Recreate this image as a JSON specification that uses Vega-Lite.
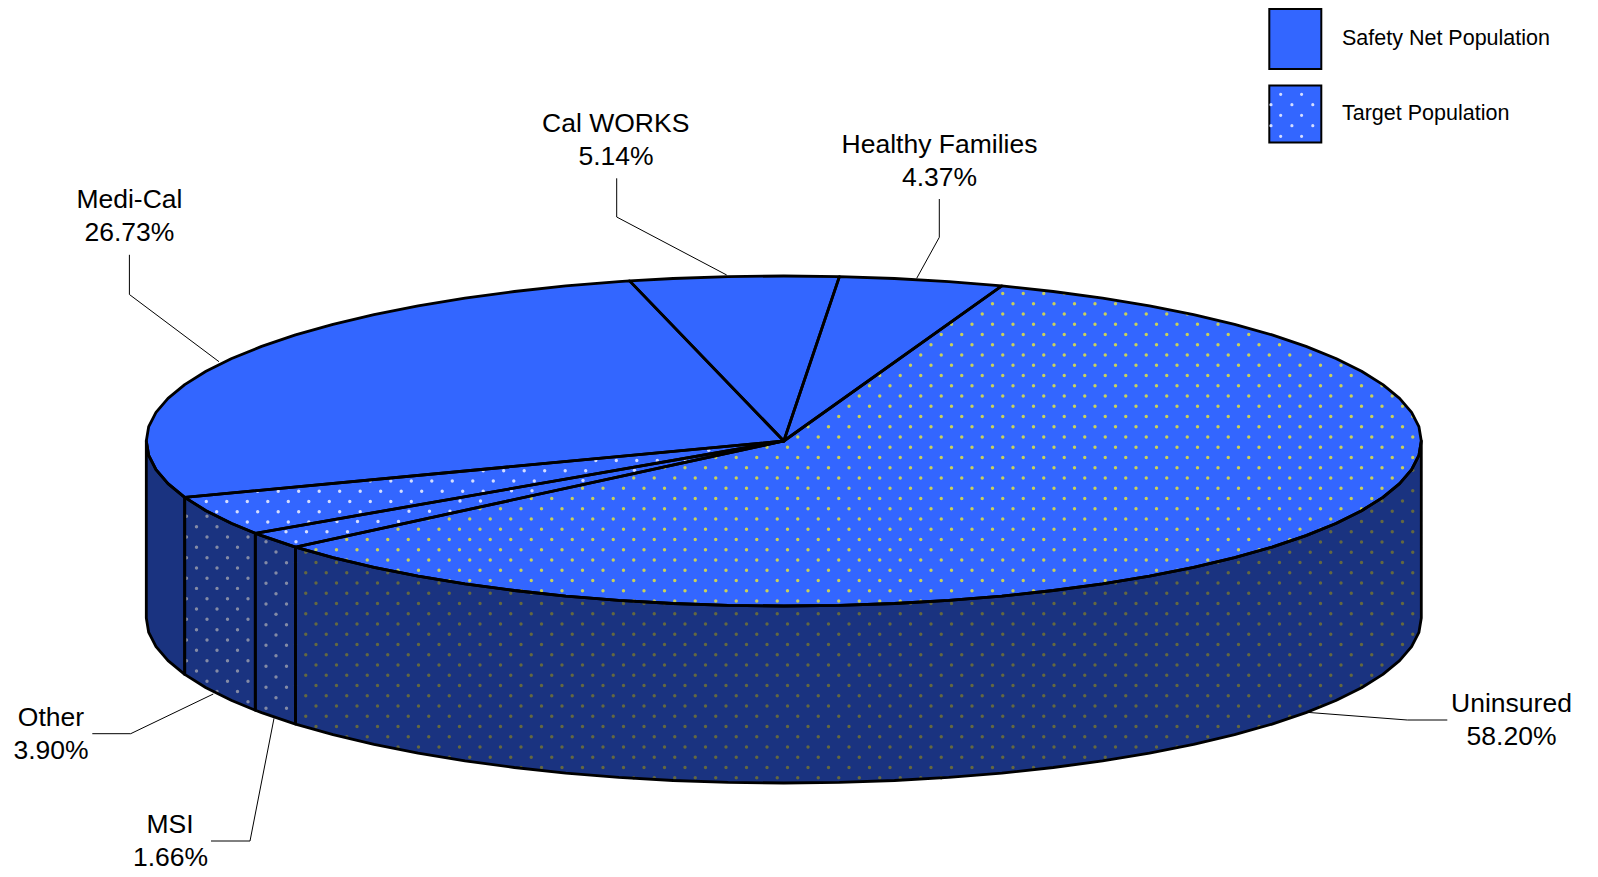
{"$schema":"https://vega.github.io/schema/vega-lite/v6.json","width":1598,"height":877,"padding":0,"autosize":{"type":"none"},"background":"white","config":{"view":{"stroke":null}},
"datasets":{"pie":[
{"s":"SM","f":"side","i":0,"x":146.3,"y":441},{"s":"SM","f":"side","i":1,"x":148.7,"y":455.4},{"s":"SM","f":"side","i":2,"x":156,"y":469.6},{"s":"SM","f":"side","i":3,"x":168,"y":483.7},{"s":"SM","f":"side","i":4,"x":184.7,"y":497.4},{"s":"SM","f":"side","i":5,"x":184.7,"y":674.4},{"s":"SM","f":"side","i":6,"x":168,"y":660.7},{"s":"SM","f":"side","i":7,"x":156,"y":646.6},{"s":"SM","f":"side","i":8,"x":148.7,"y":632.4},{"s":"SM","f":"side","i":9,"x":146.3,"y":618},{"s":"SM","f":"side","i":10,"x":146.3,"y":441},
{"s":"SO","f":"side","i":0,"x":184.7,"y":497.4},{"s":"SO","f":"side","i":1,"x":206,"y":510.7},{"s":"SO","f":"side","i":2,"x":231.7,"y":523.5},{"s":"SO","f":"side","i":3,"x":255.3,"y":533.3},{"s":"SO","f":"side","i":4,"x":255.3,"y":710.3},{"s":"SO","f":"side","i":5,"x":231.7,"y":700.5},{"s":"SO","f":"side","i":6,"x":206,"y":687.7},{"s":"SO","f":"side","i":7,"x":184.7,"y":674.4},{"s":"SO","f":"side","i":8,"x":184.7,"y":497.4},
{"s":"SS","f":"side","i":0,"x":255.3,"y":533.3},{"s":"SS","f":"side","i":1,"x":261.6,"y":535.6},{"s":"SS","f":"side","i":2,"x":295.5,"y":547.1},{"s":"SS","f":"side","i":3,"x":295.5,"y":724.1},{"s":"SS","f":"side","i":4,"x":261.6,"y":712.6},{"s":"SS","f":"side","i":5,"x":255.3,"y":710.3},{"s":"SS","f":"side","i":6,"x":255.3,"y":533.3},
{"s":"SU","f":"side","i":0,"x":295.5,"y":547.1},{"s":"SU","f":"side","i":1,"x":333,"y":557.7},{"s":"SU","f":"side","i":2,"x":374,"y":567.4},{"s":"SU","f":"side","i":3,"x":418.1,"y":576.2},{"s":"SU","f":"side","i":4,"x":465,"y":583.9},{"s":"SU","f":"side","i":5,"x":514.4,"y":590.5},{"s":"SU","f":"side","i":6,"x":565.8,"y":596.1},{"s":"SU","f":"side","i":7,"x":618.8,"y":600.4},{"s":"SU","f":"side","i":8,"x":673.1,"y":603.5},{"s":"SU","f":"side","i":9,"x":728.2,"y":605.4},{"s":"SU","f":"side","i":10,"x":783.8,"y":606},{"s":"SU","f":"side","i":11,"x":839.4,"y":605.4},{"s":"SU","f":"side","i":12,"x":894.5,"y":603.5},{"s":"SU","f":"side","i":13,"x":948.8,"y":600.4},{"s":"SU","f":"side","i":14,"x":1001.8,"y":596.1},{"s":"SU","f":"side","i":15,"x":1053.2,"y":590.5},{"s":"SU","f":"side","i":16,"x":1102.6,"y":583.9},{"s":"SU","f":"side","i":17,"x":1149.5,"y":576.2},{"s":"SU","f":"side","i":18,"x":1193.6,"y":567.4},{"s":"SU","f":"side","i":19,"x":1234.6,"y":557.7},{"s":"SU","f":"side","i":20,"x":1272.1,"y":547.1},{"s":"SU","f":"side","i":21,"x":1306,"y":535.6},{"s":"SU","f":"side","i":22,"x":1335.9,"y":523.5},{"s":"SU","f":"side","i":23,"x":1361.6,"y":510.7},{"s":"SU","f":"side","i":24,"x":1382.9,"y":497.4},{"s":"SU","f":"side","i":25,"x":1399.6,"y":483.7},{"s":"SU","f":"side","i":26,"x":1411.6,"y":469.6},{"s":"SU","f":"side","i":27,"x":1418.9,"y":455.4},{"s":"SU","f":"side","i":28,"x":1421.3,"y":441},{"s":"SU","f":"side","i":29,"x":1421.3,"y":618},{"s":"SU","f":"side","i":30,"x":1418.9,"y":632.4},{"s":"SU","f":"side","i":31,"x":1411.6,"y":646.6},{"s":"SU","f":"side","i":32,"x":1399.6,"y":660.7},{"s":"SU","f":"side","i":33,"x":1382.9,"y":674.4},{"s":"SU","f":"side","i":34,"x":1361.6,"y":687.7},{"s":"SU","f":"side","i":35,"x":1335.9,"y":700.5},{"s":"SU","f":"side","i":36,"x":1306,"y":712.6},{"s":"SU","f":"side","i":37,"x":1272.1,"y":724.1},{"s":"SU","f":"side","i":38,"x":1234.6,"y":734.7},{"s":"SU","f":"side","i":39,"x":1193.6,"y":744.4},{"s":"SU","f":"side","i":40,"x":1149.5,"y":753.2},{"s":"SU","f":"side","i":41,"x":1102.6,"y":760.9},{"s":"SU","f":"side","i":42,"x":1053.2,"y":767.5},{"s":"SU","f":"side","i":43,"x":1001.8,"y":773.1},{"s":"SU","f":"side","i":44,"x":948.8,"y":777.4},{"s":"SU","f":"side","i":45,"x":894.5,"y":780.5},{"s":"SU","f":"side","i":46,"x":839.4,"y":782.4},{"s":"SU","f":"side","i":47,"x":783.8,"y":783},{"s":"SU","f":"side","i":48,"x":728.2,"y":782.4},{"s":"SU","f":"side","i":49,"x":673.1,"y":780.5},{"s":"SU","f":"side","i":50,"x":618.8,"y":777.4},{"s":"SU","f":"side","i":51,"x":565.8,"y":773.1},{"s":"SU","f":"side","i":52,"x":514.4,"y":767.5},{"s":"SU","f":"side","i":53,"x":465,"y":760.9},{"s":"SU","f":"side","i":54,"x":418.1,"y":753.2},{"s":"SU","f":"side","i":55,"x":374,"y":744.4},{"s":"SU","f":"side","i":56,"x":333,"y":734.7},{"s":"SU","f":"side","i":57,"x":295.5,"y":724.1},{"s":"SU","f":"side","i":58,"x":295.5,"y":547.1},
{"s":"TU","f":"top","i":0,"x":783.8,"y":441},{"s":"TU","f":"top","i":1,"x":295.5,"y":547.1},{"s":"TU","f":"top","i":2,"x":333,"y":557.7},{"s":"TU","f":"top","i":3,"x":374,"y":567.4},{"s":"TU","f":"top","i":4,"x":418.1,"y":576.2},{"s":"TU","f":"top","i":5,"x":465,"y":583.9},{"s":"TU","f":"top","i":6,"x":514.4,"y":590.5},{"s":"TU","f":"top","i":7,"x":565.8,"y":596.1},{"s":"TU","f":"top","i":8,"x":618.8,"y":600.4},{"s":"TU","f":"top","i":9,"x":673.1,"y":603.5},{"s":"TU","f":"top","i":10,"x":728.2,"y":605.4},{"s":"TU","f":"top","i":11,"x":783.8,"y":606},{"s":"TU","f":"top","i":12,"x":839.4,"y":605.4},{"s":"TU","f":"top","i":13,"x":894.5,"y":603.5},{"s":"TU","f":"top","i":14,"x":948.8,"y":600.4},{"s":"TU","f":"top","i":15,"x":1001.8,"y":596.1},{"s":"TU","f":"top","i":16,"x":1053.2,"y":590.5},{"s":"TU","f":"top","i":17,"x":1102.6,"y":583.9},{"s":"TU","f":"top","i":18,"x":1149.5,"y":576.2},{"s":"TU","f":"top","i":19,"x":1193.6,"y":567.4},{"s":"TU","f":"top","i":20,"x":1234.6,"y":557.7},{"s":"TU","f":"top","i":21,"x":1272.1,"y":547.1},{"s":"TU","f":"top","i":22,"x":1306,"y":535.6},{"s":"TU","f":"top","i":23,"x":1335.9,"y":523.5},{"s":"TU","f":"top","i":24,"x":1361.6,"y":510.7},{"s":"TU","f":"top","i":25,"x":1382.9,"y":497.4},{"s":"TU","f":"top","i":26,"x":1399.6,"y":483.7},{"s":"TU","f":"top","i":27,"x":1411.6,"y":469.6},{"s":"TU","f":"top","i":28,"x":1418.9,"y":455.4},{"s":"TU","f":"top","i":29,"x":1421.3,"y":441},{"s":"TU","f":"top","i":30,"x":1418.9,"y":426.6},{"s":"TU","f":"top","i":31,"x":1411.6,"y":412.4},{"s":"TU","f":"top","i":32,"x":1399.6,"y":398.3},{"s":"TU","f":"top","i":33,"x":1382.9,"y":384.6},{"s":"TU","f":"top","i":34,"x":1361.6,"y":371.3},{"s":"TU","f":"top","i":35,"x":1335.9,"y":358.5},{"s":"TU","f":"top","i":36,"x":1306,"y":346.4},{"s":"TU","f":"top","i":37,"x":1272.1,"y":334.9},{"s":"TU","f":"top","i":38,"x":1234.6,"y":324.3},{"s":"TU","f":"top","i":39,"x":1193.6,"y":314.6},{"s":"TU","f":"top","i":40,"x":1149.5,"y":305.8},{"s":"TU","f":"top","i":41,"x":1102.6,"y":298.1},{"s":"TU","f":"top","i":42,"x":1053.2,"y":291.5},{"s":"TU","f":"top","i":43,"x":1001.8,"y":285.9},{"s":"TU","f":"top","i":44,"x":783.8,"y":441},
{"s":"TH","f":"top","i":0,"x":783.8,"y":441},{"s":"TH","f":"top","i":1,"x":1001.8,"y":285.9},{"s":"TH","f":"top","i":2,"x":948.8,"y":281.6},{"s":"TH","f":"top","i":3,"x":894.5,"y":278.5},{"s":"TH","f":"top","i":4,"x":839.4,"y":276.6},{"s":"TH","f":"top","i":5,"x":783.8,"y":441},
{"s":"TC","f":"top","i":0,"x":783.8,"y":441},{"s":"TC","f":"top","i":1,"x":839.4,"y":276.6},{"s":"TC","f":"top","i":2,"x":783.8,"y":276},{"s":"TC","f":"top","i":3,"x":728.2,"y":276.6},{"s":"TC","f":"top","i":4,"x":673.1,"y":278.5},{"s":"TC","f":"top","i":5,"x":629.6,"y":280.9},{"s":"TC","f":"top","i":6,"x":783.8,"y":441},
{"s":"TM","f":"top","i":0,"x":783.8,"y":441},{"s":"TM","f":"top","i":1,"x":629.6,"y":280.9},{"s":"TM","f":"top","i":2,"x":618.8,"y":281.6},{"s":"TM","f":"top","i":3,"x":565.8,"y":285.9},{"s":"TM","f":"top","i":4,"x":514.4,"y":291.5},{"s":"TM","f":"top","i":5,"x":465,"y":298.1},{"s":"TM","f":"top","i":6,"x":418.1,"y":305.8},{"s":"TM","f":"top","i":7,"x":374,"y":314.6},{"s":"TM","f":"top","i":8,"x":333,"y":324.3},{"s":"TM","f":"top","i":9,"x":295.5,"y":334.9},{"s":"TM","f":"top","i":10,"x":261.6,"y":346.4},{"s":"TM","f":"top","i":11,"x":231.7,"y":358.5},{"s":"TM","f":"top","i":12,"x":206,"y":371.3},{"s":"TM","f":"top","i":13,"x":184.7,"y":384.6},{"s":"TM","f":"top","i":14,"x":168,"y":398.3},{"s":"TM","f":"top","i":15,"x":156,"y":412.4},{"s":"TM","f":"top","i":16,"x":148.7,"y":426.6},{"s":"TM","f":"top","i":17,"x":146.3,"y":441},{"s":"TM","f":"top","i":18,"x":148.7,"y":455.4},{"s":"TM","f":"top","i":19,"x":156,"y":469.6},{"s":"TM","f":"top","i":20,"x":168,"y":483.7},{"s":"TM","f":"top","i":21,"x":184.7,"y":497.4},{"s":"TM","f":"top","i":22,"x":783.8,"y":441},
{"s":"TO","f":"top","i":0,"x":783.8,"y":441},{"s":"TO","f":"top","i":1,"x":184.7,"y":497.4},{"s":"TO","f":"top","i":2,"x":206,"y":510.7},{"s":"TO","f":"top","i":3,"x":231.7,"y":523.5},{"s":"TO","f":"top","i":4,"x":255.3,"y":533.3},{"s":"TO","f":"top","i":5,"x":783.8,"y":441},
{"s":"TS","f":"top","i":0,"x":783.8,"y":441},{"s":"TS","f":"top","i":1,"x":255.3,"y":533.3},{"s":"TS","f":"top","i":2,"x":261.6,"y":535.6},{"s":"TS","f":"top","i":3,"x":295.5,"y":547.1},{"s":"TS","f":"top","i":4,"x":783.8,"y":441}
]},
"encoding":{"x":{"field":"x","type":"quantitative","scale":{"domain":[0,1598]},"axis":null},"y":{"field":"y","type":"quantitative","scale":{"domain":[877,0]},"axis":null}},
"layer":[
{"data":{"name":"pie"},"mark":{"type":"line","strokeWidth":0,"strokeOpacity":0},"encoding":{"detail":{"field":"s"},"order":{"field":"i","type":"quantitative"},"fill":{"field":"f","type":"nominal","scale":{"domain":["top","side"],"range":["#3366FF","#1A3380"]},"legend":null}}},
{"data":{"values":[
{"c":"yt","y":293.45,"x":1002.75,"x2":1065.25},{"c":"yt","y":303.7,"x":992.5,"x2":1116.5},{"c":"yt","y":313.95,"x":982.25,"x2":1188.25},{"c":"yt","y":324.2,"x":951.5,"x2":1219},{"c":"yt","y":334.45,"x":941.25,"x2":1249.75},{"c":"yt","y":344.7,"x":931,"x2":1280.5},{"c":"yt","y":354.95,"x":920.75,"x2":1311.25},{"c":"yt","y":365.2,"x":910.5,"x2":1342},{"c":"yt","y":375.45,"x":879.75,"x2":1352.25},{"c":"yt","y":385.7,"x":869.5,"x2":1383},{"c":"yt","y":395.95,"x":859.25,"x2":1393.25},{"c":"yt","y":406.2,"x":849,"x2":1403.5},{"c":"yt","y":416.45,"x":838.75,"x2":1413.75},{"c":"yt","y":426.7,"x":808,"x2":1403.5},{"c":"yt","y":436.95,"x":797.75,"x2":1413.75},{"c":"yt","y":447.2,"x":767,"x2":1403.5},{"c":"yt","y":457.45,"x":715.75,"x2":1413.75},{"c":"yt","y":467.7,"x":664.5,"x2":1403.5},{"c":"yt","y":477.95,"x":633.75,"x2":1393.25},{"c":"yt","y":488.2,"x":582.5,"x2":1383},{"c":"yt","y":498.45,"x":531.25,"x2":1372.75},{"c":"yt","y":508.7,"x":480,"x2":1362.5},{"c":"yt","y":518.95,"x":428.75,"x2":1331.75},{"c":"yt","y":529.2,"x":398,"x2":1321.5},{"c":"yt","y":539.45,"x":346.75,"x2":1290.75},{"c":"yt","y":549.7,"x":316,"x2":1260},{"c":"yt","y":559.95,"x":346.75,"x2":1208.75},{"c":"yt","y":570.2,"x":398,"x2":1178},{"c":"yt","y":580.45,"x":449.25,"x2":1106.25},{"c":"yt","y":590.7,"x":521,"x2":1034.5},{"c":"yt","y":600.95,"x":633.75,"x2":921.75},
{"c":"wt","y":450.3,"x":708.7,"x2":709.7},{"c":"wt","y":460.55,"x":595.8,"x2":658.3},{"c":"wt","y":470.8,"x":483.2,"x2":586.7},{"c":"wt","y":481.05,"x":370.3,"x2":535.3},{"c":"wt","y":491.3,"x":257.7,"x2":484.2},{"c":"wt","y":501.55,"x":206.3,"x2":412.3},{"c":"wt","y":511.8,"x":216.7,"x2":361.2},{"c":"wt","y":522.05,"x":247.3,"x2":309.8},
{"c":"wt","y":541.7,"x":296,"x2":297},{"c":"wt","y":531.7,"x":286,"x2":348.5},{"c":"wt","y":521.45,"x":337,"x2":399.5},{"c":"wt","y":511.2,"x":409,"x2":451},{"c":"wt","y":500.95,"x":460,"x2":481.5},{"c":"wt","y":490.7,"x":511.5,"x2":533},{"c":"wt","y":480.45,"x":583,"x2":584},{"c":"wt","y":470.2,"x":634.5,"x2":635.5},{"c":"wt","y":459.95,"x":685.5,"x2":686.5},
{"c":"ys","y":470.2,"x":1412.75,"x2":1413.75},{"c":"ys","y":490.7,"x":1412.75,"x2":1413.75},{"c":"ys","y":500.95,"x":1382,"x2":1403.5},{"c":"ys","y":511.2,"x":1371.75,"x2":1413.75},{"c":"ys","y":521.45,"x":1361.5,"x2":1403.5},{"c":"ys","y":531.7,"x":1330.75,"x2":1413.75},{"c":"ys","y":541.95,"x":1300,"x2":1403.5},{"c":"ys","y":552.2,"x":1269.25,"x2":1413.75},{"c":"ys","y":552.2,"x":305.75,"x2":306.75},{"c":"ys","y":562.45,"x":1218,"x2":1403.5},{"c":"ys","y":562.45,"x":295.5,"x2":337.5},{"c":"ys","y":572.7,"x":1187.25,"x2":1413.75},{"c":"ys","y":572.7,"x":305.75,"x2":388.75},{"c":"ys","y":582.95,"x":1115.5,"x2":1403.5},{"c":"ys","y":582.95,"x":295.5,"x2":440},{"c":"ys","y":593.2,"x":1043.75,"x2":1413.75},{"c":"ys","y":593.2,"x":305.75,"x2":532.25},{"c":"ys","y":603.45,"x":910.5,"x2":1403.5},{"c":"ys","y":603.45,"x":295.5,"x2":665.5},{"c":"ys","y":613.7,"x":305.75,"x2":1413.75},{"c":"ys","y":623.95,"x":295.5,"x2":1403.5},{"c":"ys","y":634.2,"x":305.75,"x2":1413.75},{"c":"ys","y":644.45,"x":295.5,"x2":1403.5},{"c":"ys","y":654.7,"x":305.75,"x2":1393.25},{"c":"ys","y":664.95,"x":295.5,"x2":1383},{"c":"ys","y":675.2,"x":305.75,"x2":1372.75},{"c":"ys","y":685.45,"x":295.5,"x2":1362.5},{"c":"ys","y":695.7,"x":305.75,"x2":1331.75},{"c":"ys","y":705.95,"x":295.5,"x2":1321.5},{"c":"ys","y":716.2,"x":305.75,"x2":1290.75},{"c":"ys","y":726.45,"x":316,"x2":1260},{"c":"ys","y":736.7,"x":346.75,"x2":1208.75},{"c":"ys","y":746.95,"x":398,"x2":1178},{"c":"ys","y":757.2,"x":449.25,"x2":1106.25},{"c":"ys","y":767.45,"x":521,"x2":1034.5},{"c":"ys","y":777.7,"x":633.75,"x2":942.25},
{"c":"ws","y":516.3,"x":186.5,"x2":208},{"c":"ws","y":526.7,"x":196.5,"x2":218},{"c":"ws","y":537,"x":186.5,"x2":249},{"c":"ws","y":547.3,"x":196.5,"x2":238.5},{"c":"ws","y":557.7,"x":186.5,"x2":249},{"c":"ws","y":568,"x":196.5,"x2":238.5},{"c":"ws","y":578.2,"x":186.5,"x2":249},{"c":"ws","y":588.4,"x":196.5,"x2":238.5},{"c":"ws","y":598.7,"x":186.5,"x2":249},{"c":"ws","y":609,"x":196.5,"x2":238.5},{"c":"ws","y":619.3,"x":186.5,"x2":249},{"c":"ws","y":629.7,"x":196.5,"x2":238.5},{"c":"ws","y":640,"x":186.5,"x2":249},{"c":"ws","y":650.3,"x":196.5,"x2":238.5},{"c":"ws","y":660.7,"x":186.5,"x2":249},{"c":"ws","y":671,"x":196.5,"x2":238.5},{"c":"ws","y":681.3,"x":207,"x2":249},{"c":"ws","y":691.5,"x":217,"x2":238.5},{"c":"ws","y":701.7,"x":248,"x2":249},
{"c":"ws","y":541.7,"x":266,"x2":267},{"c":"ws","y":552,"x":276,"x2":277},{"c":"ws","y":562.7,"x":266,"x2":287.5},{"c":"ws","y":573,"x":276,"x2":277},{"c":"ws","y":583.3,"x":266,"x2":287.5},{"c":"ws","y":593.7,"x":276,"x2":277},{"c":"ws","y":604,"x":266,"x2":287.5},{"c":"ws","y":614.3,"x":276,"x2":277},{"c":"ws","y":624.7,"x":266,"x2":287.5},{"c":"ws","y":635,"x":276,"x2":277},{"c":"ws","y":645.3,"x":266,"x2":287.5},{"c":"ws","y":655.7,"x":276,"x2":277},{"c":"ws","y":666.3,"x":266,"x2":287.5},{"c":"ws","y":677,"x":276,"x2":277},{"c":"ws","y":687.3,"x":266,"x2":287.5},{"c":"ws","y":697.7,"x":276,"x2":277},{"c":"ws","y":708.3,"x":266,"x2":287.5}
]},"mark":{"type":"rule","strokeWidth":3.4,"strokeCap":"round","strokeDash":[0,20.5]},"encoding":{"x2":{"field":"x2"},"color":{"field":"c","type":"nominal","scale":{"domain":["yt","wt","ys","ws"],"range":["#C9D05A","#D5DEFF","#646840","#848BA6"]},"legend":null}}},
{"data":{"name":"pie"},"mark":{"type":"line","stroke":"black","strokeWidth":2.8,"strokeJoin":"round","strokeCap":"round"},"encoding":{"detail":{"field":"s"},"order":{"field":"i","type":"quantitative"}}},
{"data":{"values":[
{"l":"Other","i":0,"x":92.3,"y":733.7},{"l":"Other","i":1,"x":130.7,"y":733.7},{"l":"Other","i":2,"x":213.3,"y":694},
{"l":"MSI","i":0,"x":211,"y":841},{"l":"MSI","i":1,"x":250,"y":841},{"l":"MSI","i":2,"x":274,"y":718.3},
{"l":"Uninsured","i":0,"x":1447.3,"y":720},{"l":"Uninsured","i":1,"x":1407.3,"y":720},{"l":"Uninsured","i":2,"x":1306.7,"y":712.3},
{"l":"Cal WORKS","i":0,"x":616.7,"y":178.3},{"l":"Cal WORKS","i":1,"x":616.7,"y":217},{"l":"Cal WORKS","i":2,"x":726.7,"y":275},
{"l":"Healthy Families","i":0,"x":939.3,"y":199},{"l":"Healthy Families","i":1,"x":939.3,"y":237.3},{"l":"Healthy Families","i":2,"x":916.7,"y":278.3},
{"l":"Medi-Cal","i":0,"x":129.4,"y":254.8},{"l":"Medi-Cal","i":1,"x":129.4,"y":294.5},{"l":"Medi-Cal","i":2,"x":219,"y":361.7}
]},"mark":{"type":"line","stroke":"black","strokeWidth":1},"encoding":{"detail":{"field":"l"},"order":{"field":"i","type":"quantitative"}}},
{"data":{"values":[
{"t":"Medi-Cal","x":129.4,"y":208},{"t":"26.73%","x":129.4,"y":241},
{"t":"Cal WORKS","x":615.7,"y":131.7},{"t":"5.14%","x":616,"y":165},
{"t":"Healthy Families","x":939.5,"y":153.3},{"t":"4.37%","x":939.5,"y":186},
{"t":"Uninsured","x":1511.5,"y":711.7},{"t":"58.20%","x":1511.5,"y":745},
{"t":"Other","x":51,"y":725.8},{"t":"3.90%","x":51,"y":759.2},
{"t":"MSI","x":170,"y":832.7},{"t":"1.66%","x":170.5,"y":865.7}
]},"mark":{"type":"text","font":"Liberation Sans","fontSize":26.5,"align":"center","baseline":"alphabetic","color":"black"},"encoding":{"text":{"field":"t"}}},
{"data":{"values":[{"n":"Safety Net Population","x":1269.3,"x2":1321.3,"y":9,"y2":69},{"n":"Target Population","x":1269.3,"x2":1321.3,"y":85.5,"y2":142.5}]},"mark":{"type":"rect","fill":"#3366FF","stroke":"black","strokeWidth":2},"encoding":{"x2":{"field":"x2"},"y2":{"field":"y2"}}},
{"data":{"values":[{"y":94.3,"x":1280.7,"x2":1303},{"y":104.7,"x":1271,"x2":1313.7},{"y":115.3,"x":1280.7,"x2":1303},{"y":125.7,"x":1271,"x2":1313.7},{"y":136.3,"x":1280.7,"x2":1303}]},"mark":{"type":"rule","strokeWidth":3.2,"strokeCap":"round","strokeDash":[0,20.9],"color":"#D5DEFF"},"encoding":{"x2":{"field":"x2"}}},
{"data":{"values":[{"t":"Safety Net Population","x":1342,"y":45},{"t":"Target Population","x":1342,"y":120}]},"mark":{"type":"text","font":"Liberation Sans","fontSize":21.5,"align":"left","baseline":"alphabetic","color":"black"},"encoding":{"text":{"field":"t"}}}
]}
